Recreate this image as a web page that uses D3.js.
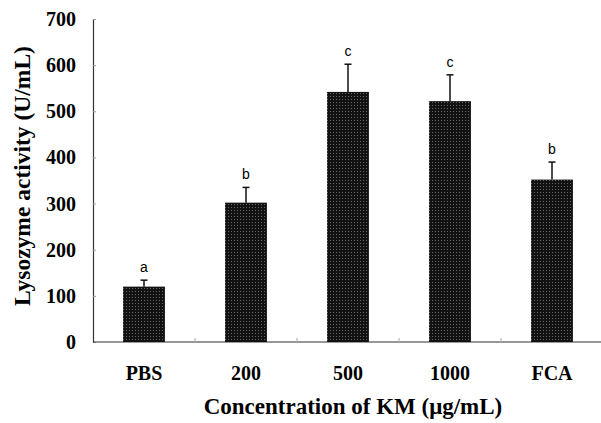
<!DOCTYPE html>
<html>
<head>
<meta charset="utf-8">
<script src="https://cdn.jsdelivr.net/npm/d3@7"></script>
<style>
  body { margin: 0; background: #fff; }
  svg { display: block; }
</style>
</head>
<body>
<div id="chart"></div>
<script>
const groups = ['PBS', '200', '500', '1000', 'FCA']
const activity = [120, 302, 542, 522, 352]
const errors = [14, 33, 60, 57, 38]
const letters = ['a', 'b', 'c', 'c', 'b']
const yTicks = [0, 100, 200, 300, 400, 500, 600, 700]

const width = 601, height = 423
const margin = { left: 93, top: 19, right: -2, bottom: 81 }

const svg = d3.select('#chart').append('svg')
  .attr('width', width)
  .attr('height', height)

// dotted halftone look of the printed bars
const pat = svg.append('defs').append('pattern')
  .attr('id', 'dots')
  .attr('width', 3)
  .attr('height', 3)
  .attr('patternUnits', 'userSpaceOnUse')
pat.append('rect').attr('width', 3).attr('height', 3).attr('fill', '#121212')
pat.append('rect').attr('width', 1).attr('height', 1).attr('fill', '#666')

const x = d3.scaleBand()
  .domain(groups)
  .range([margin.left, width - margin.right])
  .paddingInner(0.59)
  .paddingOuter(0.295)

const y = d3.scaleLinear()
  .domain([0, 700])
  .range([height - margin.bottom, margin.top])

const serif = '"Liberation Serif", "DejaVu Serif", serif'

// y axis
const yAxis = svg.append('g')
  .attr('transform', `translate(${margin.left},0)`)
  .call(d3.axisRight(y).tickValues(yTicks).tickSize(3).tickFormat(''))
yAxis.select('.domain').attr('stroke', '#333').attr('stroke-width', 1.2)
yAxis.selectAll('.tick line').attr('stroke', '#999')

svg.append('g').selectAll('text')
  .data(yTicks)
  .join('text')
    .attr('x', margin.left - 17)
    .attr('y', d => y(d))
    .attr('dy', '0.35em')
    .attr('text-anchor', 'end')
    .style('font-family', serif)
    .style('font-weight', 'bold')
    .style('font-size', '20px')
    .text(d => d)

// x axis
const bounds = groups.slice(1).map(g => x(g) - x.step() * x.paddingInner() / 2)
const xAxis = svg.append('g')
xAxis.append('line')
  .attr('x1', margin.left)
  .attr('x2', width)
  .attr('y1', y(0))
  .attr('y2', y(0))
  .attr('stroke', '#333')
  .attr('stroke-width', 1.2)
xAxis.selectAll('.xt')
  .data(bounds)
  .join('line')
    .attr('class', 'xt')
    .attr('x1', d => d)
    .attr('x2', d => d)
    .attr('y1', y(0))
    .attr('y2', y(0) - 4)
    .attr('stroke', '#aaa')

svg.append('g').selectAll('text')
  .data(groups)
  .join('text')
    .attr('x', d => x(d) + x.bandwidth() / 2)
    .attr('y', 380)
    .attr('text-anchor', 'middle')
    .style('font-family', serif)
    .style('font-weight', 'bold')
    .style('font-size', '20px')
    .text(d => d)

// bars
const bars = svg.append('g')
bars.selectAll('rect')
  .data(groups)
  .join('rect')
    .attr('x', d => x(d))
    .attr('y', (d, i) => y(activity[i]))
    .attr('width', x.bandwidth())
    .attr('height', (d, i) => y(0) - y(activity[i]))
    .attr('fill', 'url(#dots)')

// error bars, upper only
const err = svg.append('g').attr('stroke', '#111').attr('stroke-width', 1.5)
groups.forEach((g, i) => {
  const cx = x(g) + x.bandwidth() / 2
  err.append('line')
    .attr('x1', cx).attr('x2', cx)
    .attr('y1', y(activity[i]))
    .attr('y2', y(activity[i] + errors[i]))
  err.append('line')
    .attr('x1', cx - 3.5).attr('x2', cx + 3.5)
    .attr('y1', y(activity[i] + errors[i]))
    .attr('y2', y(activity[i] + errors[i]))
})

svg.append('g').selectAll('text')
  .data(groups)
  .join('text')
    .attr('x', d => x(d) + x.bandwidth() / 2)
    .attr('y', (d, i) => y(activity[i] + errors[i]) - 8)
    .attr('text-anchor', 'middle')
    .style('font-family', '"Liberation Sans", Arial, sans-serif')
    .style('font-size', '14px')
    .text((d, i) => letters[i])

// axis titles
svg.append('text')
  .attr('x', 353)
  .attr('y', 414)
  .attr('text-anchor', 'middle')
  .style('font-family', serif)
  .style('font-weight', 'bold')
  .style('font-size', '23px')
  .text('Concentration of KM (μg/mL)')

svg.append('text')
  .attr('transform', 'translate(30,176) rotate(-90)')
  .attr('text-anchor', 'middle')
  .style('font-family', serif)
  .style('font-weight', 'bold')
  .style('font-size', '23.5px')
  .text('Lysozyme activity (U/mL)')
</script>
</body>
</html>
